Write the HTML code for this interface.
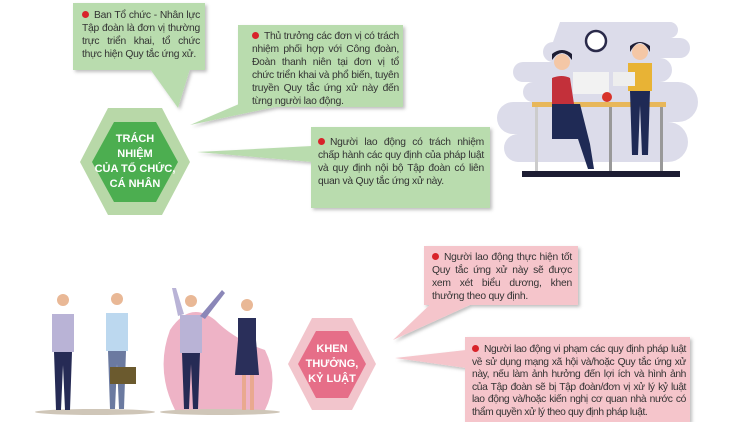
<!DOCTYPE html>
<html><head><meta charset="utf-8"><style>
body{margin:0;width:750px;height:422px;overflow:hidden;background:#fff;position:relative;font-family:"Liberation Sans",sans-serif}
svg{position:absolute;left:0;top:0}
.t{position:absolute;font-size:10.3px;line-height:13px;color:#333;text-align:justify;letter-spacing:-0.25px}
.t .d{display:inline-block;width:7px;height:7px;border-radius:50%;background:#d8232a;margin-right:5px;vertical-align:0px}
.h{position:absolute;color:#fff;font-weight:bold;text-align:center;font-size:11px;line-height:15px}
</style></head><body>
<svg width="750" height="422">
<defs>
<filter id="s" x="-10%" y="-10%" width="130%" height="130%"><feDropShadow dx="2" dy="2" stdDeviation="1.5" flood-color="#000" flood-opacity="0.25"/></filter>
</defs>
<g>
<path d="M560 22 h110 a8 8 0 0 1 0 16 h10 a10 10 0 0 1 0 20 h-20 a12 12 0 0 1 0 24 h18 a20 20 0 0 1 0 40 h-10 a20 20 0 0 1 0 40 h-150 a14 14 0 0 1 0 -28 h-5 a16 16 0 0 1 0 -32 h20 a10 10 0 0 1 0 -20 h-10 a10 10 0 0 1 0 -20 h30 a10 10 0 0 1 0 -20 z" fill="#dcdcea"/>
<circle cx="596" cy="41" r="10" fill="#fff" stroke="#2a2a4a" stroke-width="2.5"/>
<rect x="522" y="171" width="158" height="6" fill="#1d1d33"/>
<rect x="532" y="102" width="134" height="5" fill="#e8b75a"/>
<rect x="535" y="107" width="3" height="64" fill="#ccc"/><rect x="609" y="107" width="3" height="64" fill="#999"/><rect x="660" y="107" width="3" height="64" fill="#999"/>
<rect x="573" y="72" width="36" height="22" fill="#f2f2f2"/>
<path d="M552 78 q10 -4 18 0 l4 26 h-22z" fill="#c3303a"/>
<circle cx="562" cy="62" r="8" fill="#f4c7a6"/><path d="M552 60 q10 -14 20 0 v-6 q-10 -8 -20 0z" fill="#1d1d33"/>
<path d="M552 104 h28 l10 40 l4 25 h-6 l-10 -30 h-26z" fill="#1f2a55"/>
<circle cx="640" cy="52" r="8" fill="#f4c7a6"/><path d="M630 52 q10 -18 20 0 v-6 q-10 -8 -20 0z" fill="#1d1d33"/>
<path d="M628 63 h24 v28 h-24z" fill="#e8b335"/>
<rect x="613" y="72" width="22" height="14" fill="#eee"/>
<path d="M630 91 h20 l-2 64 h-6 l-2 -50 l-2 50 h-6z" fill="#1f2a55"/>
<circle cx="607" cy="97" r="5" fill="#d8332a"/>
</g>
<g>
<path d="M170 330 q20 -30 45 -10 q20 20 50 30 q15 30 0 60 h-90 q-20 -40 -5 -80z" fill="#eaa0b8" opacity="0.8"/>
<ellipse cx="95" cy="412" rx="60" ry="3" fill="#cfc6b8"/>
<ellipse cx="220" cy="412" rx="60" ry="3" fill="#cfc6b8"/>
<circle cx="63" cy="300" r="6" fill="#e9b896"/><path d="M52 314 h22 v38 h-22z" fill="#b9b3d6"/><path d="M54 352 h18 l-2 58 h-5 l-2 -45 l-2 45 h-5z" fill="#262b55"/>
<circle cx="117" cy="299" r="6" fill="#e9b896"/><path d="M106 313 h22 v38 h-22z" fill="#bcd8ef"/><path d="M108 351 h18 l-2 58 h-5 l-2 -45 l-2 45 h-5z" fill="#6b7aa0"/>
<rect x="110" y="367" width="26" height="17" fill="#6b5a2e"/>
<circle cx="191" cy="301" r="6" fill="#e9b896"/><path d="M180 315 h22 v38 h-22z" fill="#b9b3d6"/><path d="M182 353 h18 l-2 56 h-5 l-2 -45 l-2 45 h-5z" fill="#262b55"/>
<path d="M178 316 l-6 -28 l4 0 l8 26z" fill="#b9b3d6"/><path d="M200 316 l22 -26 l3 3 l-20 26z" fill="#8b87b8"/>
<circle cx="247" cy="305" r="6" fill="#e9b896"/><path d="M238 318 h18 v22 h-18z" fill="#2a2f5a"/><path d="M238 340 h18 l3 35 h-24z" fill="#2a2f5a"/><path d="M242 375 h4 v35 h-4z M250 375 h4 v35 h-4z" fill="#e9a98f"/>
</g>
<g filter="url(#s)">
<rect x="73" y="3" width="132" height="67" fill="#b9dcae"/>
<polygon points="150,69 190,69 178,108" fill="#b9dcae"/>
<rect x="238" y="25" width="165" height="82" fill="#b9dcae"/>
<polygon points="260,95 280,106 190,125" fill="#b9dcae"/>
<rect x="311" y="127" width="179" height="81" fill="#b9dcae"/>
<polygon points="312,146 312,162 197,152" fill="#b9dcae"/>
</g>
<polygon points="108,108 162,108 190,162 162,215 108,215 80,162" fill="#b8d8a8"/>
<polygon points="114,122 156,122 178,162 156,202 114,202 92,162" fill="#4cae50"/>
<g filter="url(#s)">
<rect x="424" y="246" width="154" height="59" fill="#f5c5cb"/>
<polygon points="440,295 470,305 393,340" fill="#f5c5cb"/>
<rect x="465" y="337" width="225" height="85" fill="#f5c5cb"/>
<polygon points="466,350 466,368 395,358" fill="#f5c5cb"/>
</g>
<polygon points="312,318 352,318 376,364 352,410 312,410 288,364" fill="#f2c5cc"/>
<polygon points="316,331 348,331 366,364 348,398 316,398 298,364" fill="#e66e88"/>
</svg>
<div class="t" style="left:82px;top:9px;width:118px"><span class="d"></span>Ban Tổ chức - Nhân lực Tập đoàn là đơn vị thường trực triển khai, tổ chức thực hiện Quy tắc ứng xử.</div>
<div class="t" style="left:252px;top:30px;width:147px"><span class="d"></span>Thủ trưởng các đơn vị có trách nhiệm phối hợp với Công đoàn, Đoàn thanh niên tại đơn vị tổ chức triển khai và phổ biến, tuyên truyền Quy tắc ứng xử này đến từng người lao động.</div>
<div class="t" style="left:318px;top:136px;width:166px"><span class="d"></span>Người lao động có trách nhiệm chấp hành các quy định của pháp luật và quy định nội bộ Tập đoàn có liên quan và Quy tắc ứng xử này.</div>
<div class="h" style="left:90px;top:132px;width:90px">TRÁCH<br>NHIỆM<br>CỦA TỔ CHỨC,<br>CÁ NHÂN</div>
<div class="t" style="left:432px;top:251px;width:140px"><span class="d"></span>Người lao động thực hiện tốt Quy tắc ứng xử này sẽ được xem xét biểu dương, khen thưởng theo quy định.</div>
<div class="t" style="left:472px;top:344px;width:214px;line-height:12.5px;letter-spacing:-0.4px"><span class="d"></span>Người lao động vi phạm các quy định pháp luật về sử dụng mạng xã hội và/hoặc Quy tắc ứng xử này, nếu làm ảnh hưởng đến lợi ích và hình ảnh của Tập đoàn sẽ bị Tập đoàn/đơn vị xử lý kỷ luật lao động và/hoặc kiến nghị cơ quan nhà nước có thẩm quyền xử lý theo quy định pháp luật.</div>
<div class="h" style="left:296px;top:342px;width:72px">KHEN<br>THƯỞNG,<br>KỶ LUẬT</div>
</body></html>
